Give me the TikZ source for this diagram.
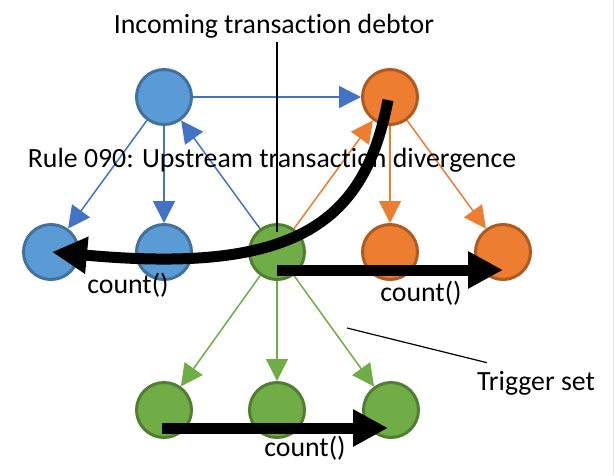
\documentclass[tikz,border=0pt]{standalone}
\usepackage{fontspec}
\setmainfont{Carlito}[Ligatures=NoCommon]
\usetikzlibrary{arrows.meta,calc}
\definecolor{bfill}{HTML}{5B9BD5}
\definecolor{bline}{HTML}{41719C}
\definecolor{barrow}{HTML}{4472C4}
\definecolor{ofill}{HTML}{ED7D31}
\definecolor{oline}{HTML}{AE5A21}
\definecolor{gfill}{HTML}{70AD47}
\definecolor{gline}{HTML}{507E32}
\tikzset{
  dot/.style={circle,minimum size=55pt,inner sep=0pt,line width=3pt},
  bdot/.style={dot,fill=bfill,draw=bline},
  odot/.style={dot,fill=ofill,draw=oline},
  gdot/.style={dot,fill=gfill,draw=gline},
  thin arrow/.style={line width=1.5pt,-{Triangle[length=22pt,width=22pt]}},
  big arrow/.style={line width=11pt,-{Triangle[length=35pt,width=35pt]}},
  lbl/.style={font=\fontsize{27.8}{33}\selectfont,inner sep=0pt,anchor=base}
}
\begin{document}
\begin{tikzpicture}[x=1pt,y=-1pt]
\useasboundingbox[fill=white] (0,0) rectangle (614,475);
\draw[black!12,line width=1pt] (613,0) -- (613,475);
% nodes
\node[bdot] (bt) at (164,97) {};
\node[odot] (ot) at (390,97) {};
\node[bdot] (bl) at (51,252) {};
\node[bdot] (bm) at (164,252) {};
\node[gdot] (g)  at (277,252) {};
\node[odot] (om) at (390,252) {};
\node[odot] (or) at (503,252) {};
\node[gdot] (gl) at (164,410) {};
\node[gdot] (gm) at (277,410) {};
\node[gdot] (gr) at (391,410) {};
% thin arrows
\draw[thin arrow,draw=barrow,fill=barrow] (bt) -- (ot);
\draw[thin arrow,draw=barrow,fill=barrow] (bt) -- (bl);
\draw[thin arrow,draw=barrow,fill=barrow] (bt) -- (bm);
\draw[thin arrow,draw=barrow,fill=barrow] (g) -- (bt);
\draw[thin arrow,draw=ofill,fill=ofill] (g) -- (ot);
\draw[thin arrow,draw=ofill,fill=ofill] (ot) -- (om);
\draw[thin arrow,draw=ofill,fill=ofill] (ot) -- (or);
\draw[thin arrow,draw=gfill,fill=gfill] (g) -- (gl);
\draw[thin arrow,draw=gfill,fill=gfill] (g) -- (gm);
\draw[thin arrow,draw=gfill,fill=gfill] (g) -- (gr);
% labels
\node[lbl] (inc) at (274,33) {Incoming transaction debtor};
\node[lbl] (rule) at (272,167) {Rule 090: Upstream transaction divergence};
\node[lbl] (c1) at (128,293) {count()};
\node[lbl] (c2) at (421,301) {count()};
\node[lbl] (c3) at (305,456) {count()};
\node[lbl] (trig) at (536,390) {Trigger set};
% pointer lines
\coordinate (incl) at (277,42);
\draw[line width=1.2pt] (incl) -- ($(g.north)+(0,9)$);
\coordinate (tl) at (347,328);
\draw[line width=1.2pt] (tl) -- ($(trig.north west)+(10,-8)$);
% thick arrows
\draw[big arrow] ($(ot)+(-2,3)$) .. controls (365,220) and (300,275) .. ($(bl)+(1,0)$);
\draw[big arrow] ($(g)+(0,18)$) -- ($(or)+(0,18)$);
\draw[big arrow] ($(gl)+(-2,18)$) -- ($(gr)+(-3,18)$);
\end{tikzpicture}
\end{document}
